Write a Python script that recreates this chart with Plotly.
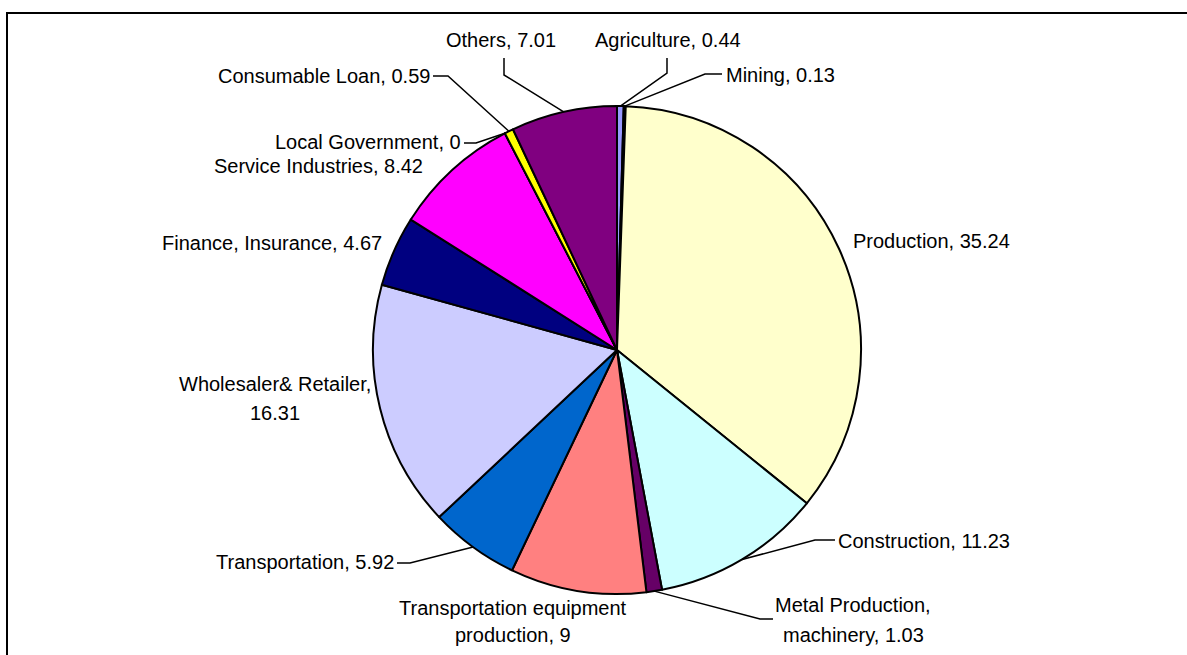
import math
import plotly.graph_objects as go

W, H = 1187, 655

# ---- data ----
sectors = ["Agriculture", "Mining", "Production", "Construction",
           "Metal Production, machinery", "Transportation equipment production",
           "Transportation", "Wholesaler& Retailer", "Finance, Insurance",
           "Service Industries", "Local Government", "Consumable Loan", "Others"]
shares = [0.44, 0.13, 35.24, 11.23, 1.03, 9, 5.92, 16.31, 4.67, 8.42, 0, 0.59, 7.01]
colors = ["#9999FF", "#993366", "#FFFFCC", "#CCFFFF", "#660066", "#FF8080",
          "#0066CC", "#CCCCFF", "#000080", "#FF00FF", "#993366", "#FFFF00", "#800080"]

# ---- layout (pixels) ----
CX, CY, R = 617, 350, 244
FONT = dict(family="Liberation Sans, Arial, sans-serif", size=20, color="black")


def px(x):
    return x / W


def py(y):
    return 1 - y / H


fig = go.Figure(go.Pie(
    labels=sectors, values=shares, sort=False, direction="clockwise", rotation=0,
    marker=dict(colors=colors, line=dict(color="black", width=2)),
    textinfo="none", hoverinfo="label+value", showlegend=False,
    domain=dict(x=[px(CX - R), px(CX + R)], y=[py(CY + R), py(CY - R)]),
))

total = sum(shares)


def slice_point(i):
    before = sum(shares[:i])
    frac = (before + shares[i] / 2) / total
    a = 2 * math.pi * frac
    return CX + R * math.sin(a), CY - R * math.cos(a)


# label placement: (lines, x, y, xanchor, line gap, elbow points from label to pie)
placement = {
    "Others": (["Others, 7.01"], 501, 40, "center", 0, [(504, 58), (504, 75)]),
    "Agriculture": (["Agriculture, 0.44"], 668, 40, "center", 0, [(667, 58), (667, 73)]),
    "Mining": (["Mining, 0.13"], 724, 75, "left", 0, [(722, 74), (705, 74)]),
    "Consumable Loan": (["Consumable Loan, 0.59"], 432, 76, "right", 0, [(433, 76), (448, 76)]),
    "Local Government": (["Local Government, 0"], 463, 142, "right", 0, [(464, 143), (476, 143)]),
    "Service Industries": (["Service Industries, 8.42"], 425, 166, "right", 0, []),
    "Finance, Insurance": (["Finance, Insurance, 4.67"], 384, 243, "right", 0, []),
    "Production": (["Production, 35.24"], 851, 241, "left", 0, []),
    "Wholesaler& Retailer": (["Wholesaler& Retailer,", "16.31"], 275, 384, "center", 29, []),
    "Transportation": (["Transportation, 5.92"], 396, 562, "right", 0, [(397, 563), (410, 563)]),
    "Transportation equipment production": (["Transportation equipment", "production, 9"],
                                            513, 608, "center", 27, []),
    "Metal Production, machinery": (["Metal Production,", "machinery, 1.03"], 853, 605, "center", 30,
                                    [(773, 619), (760, 619)]),
    "Construction": (["Construction, 11.23"], 836, 541, "left", 0, [(835, 540), (815, 540)]),
}

annotations = []
shapes = []
for i, name in enumerate(sectors):
    lines, x, y, xa, gap, elbows = placement[name]
    for k, t in enumerate(lines):
        annotations.append(dict(text=t, x=px(x), y=py(y + k * gap), xref="paper", yref="paper",
                                xanchor=xa, yanchor="middle", showarrow=False, font=FONT))
    if elbows:
        pts = elbows + [slice_point(i)]
        path = "M " + " L ".join(f"{px(a):.5f},{py(b):.5f}" for a, b in pts)
        shapes.append(dict(type="path", path=path, xref="paper", yref="paper",
                           line=dict(color="black", width=1.5)))

# chart border
shapes.append(dict(type="rect", xref="paper", yref="paper", x0=px(7), y0=py(13),
                   x1=px(W + 10), y1=py(H + 10), line=dict(color="black", width=2),
                   fillcolor="rgba(0,0,0,0)"))

fig.update_layout(width=W, height=H, autosize=False, margin=dict(l=0, r=0, t=0, b=0),
                  paper_bgcolor="white", plot_bgcolor="white",
                  annotations=annotations, shapes=shapes)

fig.write_html("out.html")
